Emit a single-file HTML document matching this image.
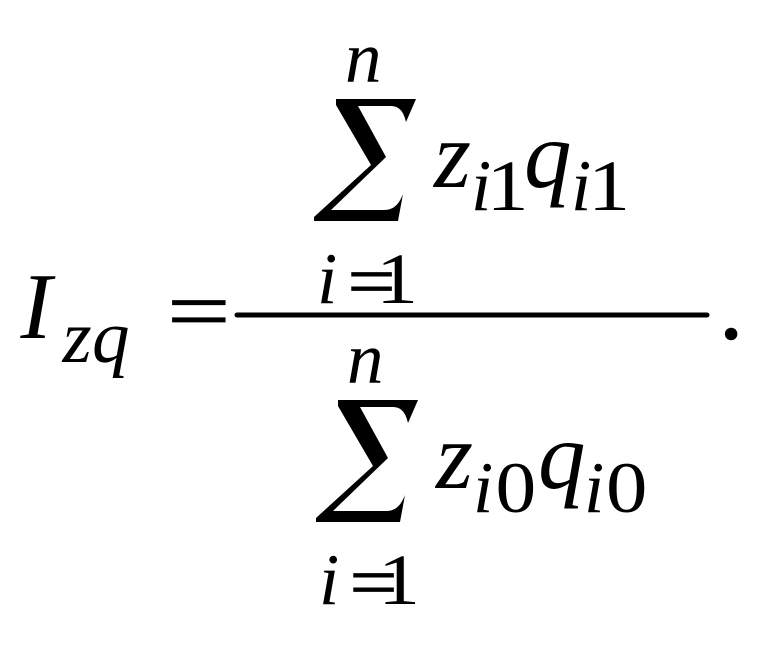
<!DOCTYPE html>
<html>
<head>
<meta charset="utf-8">
<style>
html,body{margin:0;padding:0;background:#fff;width:761px;height:657px;overflow:hidden}
svg{display:block}
text{font-family:"Liberation Serif",serif;fill:#000}
.i{font-style:italic}
</style>
</head>
<body>
<svg width="761" height="657" viewBox="0 0 761 657" xmlns="http://www.w3.org/2000/svg">
<text class="i" x="20.5" y="338" font-size="94">I</text>
<text class="i" x="62.5" y="362" font-size="75">z</text>
<text class="i" x="92" y="362" font-size="75">q</text>
<text transform="translate(167,340) scale(1.31,1)" font-size="86" stroke="#000" stroke-width="0.8">=</text>
<line x1="237" y1="315" x2="707" y2="315" stroke="#000" stroke-width="5" stroke-linecap="round"/>
<text x="719.5" y="338" font-size="93" stroke="#000" stroke-width="1.5">.</text>

<text class="i" x="345" y="82" font-size="73">n</text>
<path id="s1" d="M336 99H416L406 122C404 113 400 106 391 106H358L386 157L331 210H384C394 210 399 204 403 194L398 221H314V217L371 165L336 105Z" fill="#000"/>
<text class="i" x="434" y="187" font-size="95">z</text>
<text class="i" x="471" y="210" font-size="73">i</text>
<text transform="translate(486.5,210) scale(1.17,1)" font-size="72">1</text>
<text class="i" x="524" y="187" font-size="95">q</text>
<text class="i" x="571" y="210" font-size="73">i</text>
<text transform="translate(588,210) scale(1.17,1)" font-size="72">1</text>
<text class="i" x="317" y="303" font-size="73">i</text>
<text transform="translate(347.5,305) scale(1.2,1)" font-size="71" stroke="#000" stroke-width="0.8">=</text>
<text transform="translate(376,303) scale(1.17,1)" font-size="72">1</text>

<text class="i" x="347" y="383" font-size="73">n</text>
<path d="M338 400H418L408 423C406 414 402 407 393 407H360L388 458L333 511H386C396 511 401 505 405 495L400 522H316V518L373 466L338 406Z" fill="#000"/>
<text class="i" x="436" y="488" font-size="95">z</text>
<text class="i" x="473" y="512" font-size="73">i</text>
<text transform="translate(495.5,512) scale(1.13,1)" font-size="72">0</text>
<text class="i" x="538" y="488" font-size="95">q</text>
<text class="i" x="584" y="512" font-size="73">i</text>
<text transform="translate(606,512) scale(1.15,1)" font-size="72">0</text>
<text class="i" x="319" y="604" font-size="73">i</text>
<text transform="translate(349.5,606) scale(1.2,1)" font-size="71" stroke="#000" stroke-width="0.8">=</text>
<text transform="translate(378,604) scale(1.17,1)" font-size="72">1</text>
</svg>
</body>
</html>
